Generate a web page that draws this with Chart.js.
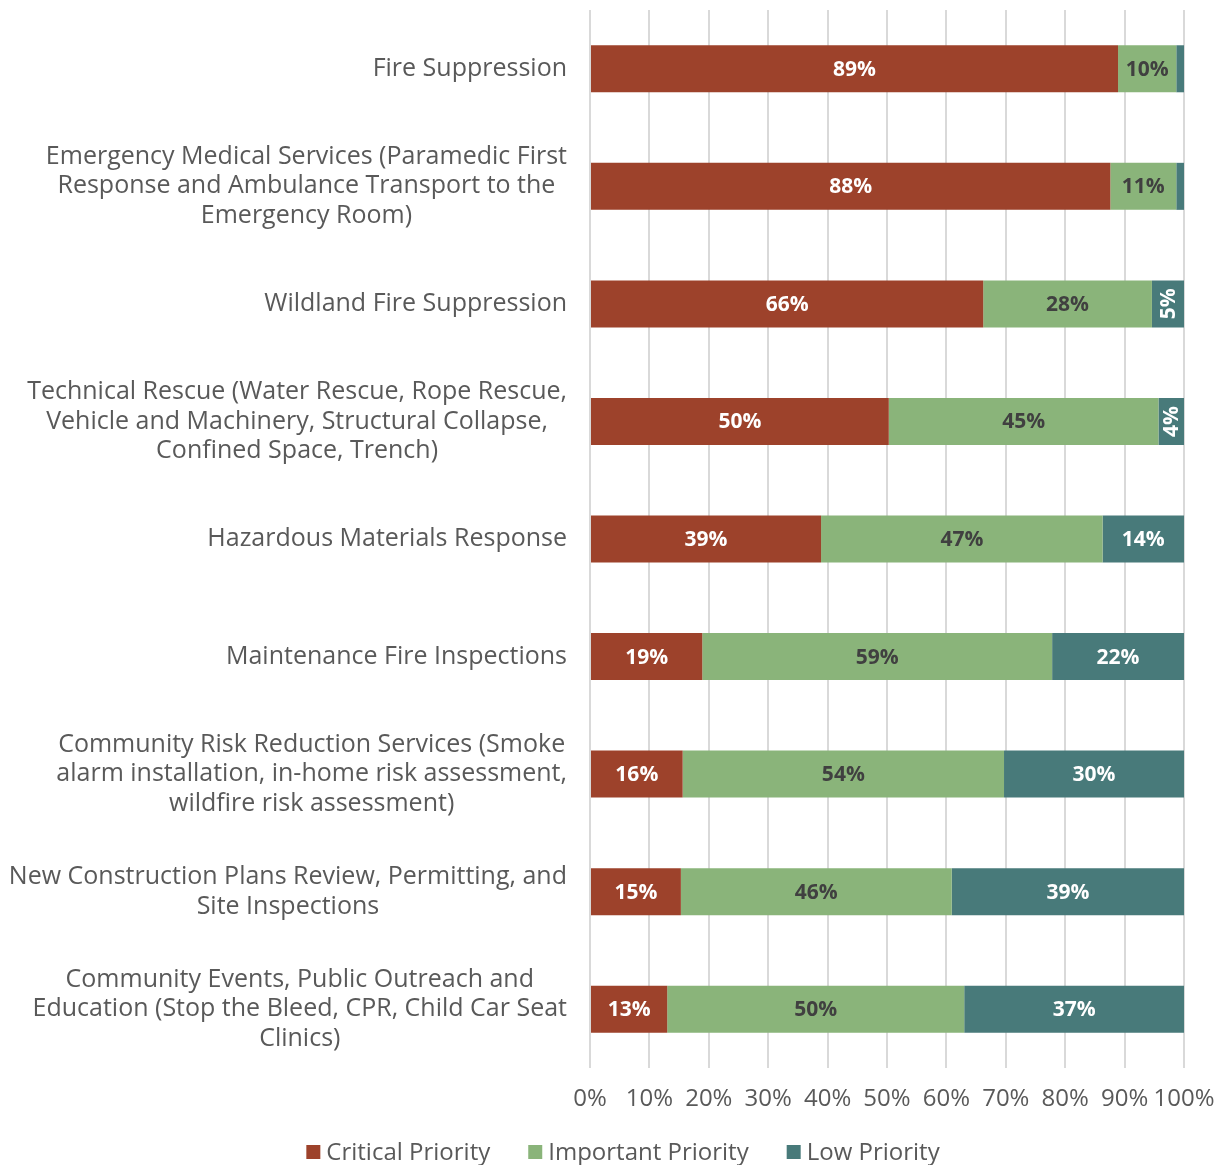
<!DOCTYPE html>
<html>
<head>
<meta charset="utf-8">
<script src="https://cdn.jsdelivr.net/npm/chart.js@4/dist/chart.umd.min.js"></script>
<style>
  html, body { margin: 0; padding: 0; background: #fff; }
  #wrap { width: 1222px; height: 1165px; position: relative; }
</style>
</head>
<body>
<div id="wrap"><canvas id="prio"></canvas></div>
<script>
// services, one entry per bar (lines of the wrapped label)
const services = [
  ["Fire Suppression"],
  ["Emergency Medical Services (Paramedic First", "Response and Ambulance Transport to the", "Emergency Room)"],
  ["Wildland Fire Suppression"],
  ["Technical Rescue (Water Rescue, Rope Rescue,", "Vehicle and Machinery, Structural Collapse,", "Confined Space, Trench)"],
  ["Hazardous Materials Response"],
  ["Maintenance Fire Inspections"],
  ["Community Risk Reduction Services (Smoke", "alarm installation, in-home risk assessment,", "wildfire risk assessment)"],
  ["New Construction Plans Review, Permitting, and", "Site Inspections"],
  ["Community Events, Public Outreach and", "Education (Stop the Bleed, CPR, Child Car Seat", "Clinics)"]
];

// share of responses (%)
const critical  = [88.9, 87.6, 66.2, 50.3, 38.9, 18.9, 15.6, 15.3, 13.0];
const important = [9.8, 11.1, 28.4, 45.4, 47.4, 58.9, 54.1, 45.6, 50.0];
const low       = [1.3, 1.3, 5.4, 4.3, 13.7, 22.2, 30.3, 39.1, 37.0];

const pctTicks = [0, 10, 20, 30, 40, 50, 60, 70, 80, 90, 100];

const FONT = "'Open Sans', sans-serif";
const GREY = '#595959';
const LABEL_RIGHT = 567;   // right edge of the service labels
const LINE_H = 29.5;

// value labels inside the bar segments
const barLabels = {
  id: 'barLabels',
  afterDatasetsDraw(chart) {
    const ctx = chart.ctx;
    chart.data.datasets.forEach((ds, di) => {
      const meta = chart.getDatasetMeta(di);
      meta.data.forEach((bar, i) => {
        const txt = Math.round(ds.data[i]) + '%';
        const w = Math.abs(bar.x - bar.base);
        const cx = (bar.x + bar.base) / 2;
        ctx.save();
        ctx.font = 'bold 21px ' + FONT;
        ctx.fillStyle = ds.labelColor;
        ctx.textAlign = 'center';
        ctx.textBaseline = 'middle';
        const tw = ctx.measureText(txt).width;
        if (tw + 6 <= w) {
          ctx.fillText(txt, cx, bar.y + 1);
        } else if (w >= 18) {
          // too narrow, stand it on its side
          ctx.translate(cx + 1, bar.y);
          ctx.rotate(-Math.PI / 2);
          ctx.fillText(txt, 0, 0);
        }
        ctx.restore();
      });
    });
  }
};

// category labels: each block right-aligned, its lines centred
const serviceLabels = {
  id: 'serviceLabels',
  afterDraw(chart) {
    const ctx = chart.ctx;
    const y = chart.scales.y;
    ctx.save();
    ctx.font = '25px ' + FONT;
    ctx.fillStyle = GREY;
    ctx.textAlign = 'center';
    ctx.textBaseline = 'middle';
    services.forEach((lines, i) => {
      const yc = y.getPixelForValue(i);
      const widest = Math.max(...lines.map(l => ctx.measureText(l).width));
      const cx = LABEL_RIGHT - widest / 2;
      lines.forEach((l, k) => {
        ctx.fillText(l, cx, yc + (k - (lines.length - 1) / 2) * LINE_H);
      });
    });
    ctx.restore();
  }
};

// legend row under the axis, tight box-to-text gap
const priorityLegend = {
  id: 'priorityLegend',
  afterDraw(chart) {
    const ctx = chart.ctx;
    const box = 14, gap = 6, spacing = 38, midX = 623, midY = 1152;
    ctx.save();
    ctx.font = '24px ' + FONT;
    ctx.textBaseline = 'middle';
    ctx.textAlign = 'left';
    const items = chart.data.datasets.map(ds => ({
      text: ds.label, color: ds.backgroundColor, w: ctx.measureText(ds.label).width
    }));
    const total = items.reduce((s, it) => s + box + gap + it.w, 0) + spacing * (items.length - 1);
    let x = midX - total / 2;
    items.forEach(it => {
      ctx.fillStyle = it.color;
      ctx.fillRect(x, midY - box / 2, box, box);
      ctx.fillStyle = GREY;
      ctx.fillText(it.text, x + box + gap, midY + 1);
      x += box + gap + it.w + spacing;
    });
    ctx.restore();
  }
};

new Chart(document.getElementById('prio'), {
  type: 'bar',
  data: {
    labels: services.map(s => s.join(' ')),
    datasets: [
      { label: 'Critical Priority', data: critical, backgroundColor: '#9D422B', labelColor: '#ffffff' },
      { label: 'Important Priority', data: important, backgroundColor: '#8AB47A', labelColor: '#404040' },
      { label: 'Low Priority', data: low, backgroundColor: '#487A7A', labelColor: '#ffffff' }
    ]
  },
  options: {
    indexAxis: 'y',
    responsive: true,
    maintainAspectRatio: false,
    animation: false,
    categoryPercentage: 1,
    barPercentage: 0.4,
    layout: { padding: { top: 10, right: 38, left: 0, bottom: 51 } },
    scales: {
      x: {
        stacked: true,
        min: 0,
        max: 100,
        afterBuildTicks: axis => { axis.ticks = pctTicks.map(v => ({ value: v })); },
        afterFit: s => { s.paddingLeft = 0; s.paddingRight = 0; s.height = 46; },
        border: { display: false },
        grid: { color: '#d9d9d9', lineWidth: 2, drawTicks: false },
        ticks: {
          color: GREY,
          font: { family: FONT, size: 24 },
          padding: 17,
          maxRotation: 0,
          autoSkip: false,
          callback: v => v + '%'
        }
      },
      y: {
        stacked: true,
        border: { display: false },
        grid: { display: false },
        ticks: { display: false },
        afterFit: s => { s.width = 590; }
      }
    },
    plugins: {
      tooltip: { enabled: false },
      legend: { display: false }
    }
  },
  plugins: [barLabels, serviceLabels, priorityLegend]
});
</script>
</body>
</html>
